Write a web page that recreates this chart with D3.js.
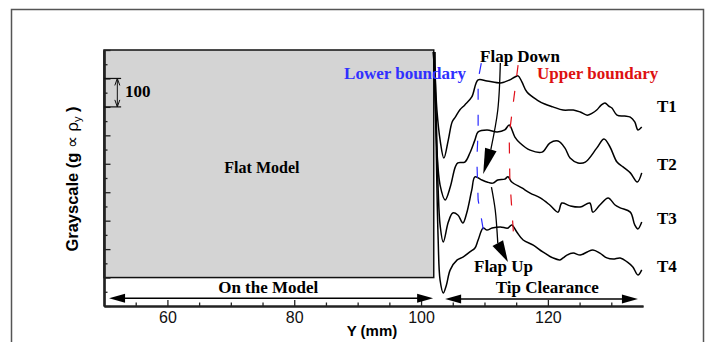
<!DOCTYPE html>
<html>
<head>
<meta charset="utf-8">
<script src="https://cdn.jsdelivr.net/npm/d3@7/dist/d3.min.js"></script>
<style>
  body { margin: 0; background: #fff; }
  .serif { font-family: "Liberation Serif", "Times New Roman", serif; font-weight: bold; }
  .sans { font-family: "Liberation Sans", Arial, sans-serif; }
</style>
</head>
<body>
<div id="chart"></div>
<script>
// grayscale profiles across the tip clearance, [Y (mm), grayscale]
var t1 = [[101.9,893],[102.2,812],[102.5,689],[103.0,584],[103.6,520],[104.3,584],[104.9,647],[105.4,664],
  [106.1,689],[106.9,707],[108.0,735],[109.0,795],[110.4,791],[112.5,784],[113.2,788],[114.0,795],[114.8,805],
  [115.3,809],[115.9,788],[116.7,752],[118.3,724],[119.5,710],[120.8,700],[122.4,689],[124.0,689],[125.1,682],
  [126.2,671],[127.0,678],[127.7,689],[128.4,706],[129.0,714],[129.6,703],[130.1,696],[130.9,671],[132.1,668],
  [133.0,664],[133.7,647],[134.2,619],[134.8,629]];
var t2 = [[102.0,893],[102.2,724],[102.5,548],[103.0,425],[103.8,373],[104.6,418],[105.4,489],[105.8,503],
  [106.9,506],[107.7,538],[108.5,584],[109.0,612],[110.4,619],[112.0,612],[113.2,619],[113.9,636],[114.8,594],
  [115.6,573],[117.2,548],[119.1,541],[120.3,573],[121.6,580],[122.7,555],[123.5,520],[124.75,503],[125.9,506],
  [127.7,555],[128.85,587],[129.8,559],[130.9,506],[131.85,489],[133.0,468],[134.1,436],[134.8,468]];
var t3 = [[102.0,893],[102.4,654],[102.7,408],[103.0,285],[103.5,225],[104.3,295],[105.0,327],[105.8,320],
  [106.6,292],[107.2,327],[108.0,408],[108.5,454],[109.6,443],[110.4,436],[111.3,432],[112.1,443],[113.2,446],
  [113.7,454],[114.3,436],[115.9,415],[117.2,397],[118.8,380],[120.3,355],[121.6,330],[122.2,362],[123.5,352],
  [125.1,348],[126.6,362],[127.1,330],[128.2,355],[129.5,380],[130.6,355],[131.4,345],[133.0,330],[133.7,285],
  [134.2,271],[134.8,295]];
var t4 = [[102.2,893],[102.4,548],[102.7,232],[103.0,91],[103.5,46],[104.0,74],[104.6,127],[105.7,162],
  [106.6,172],[107.7,190],[108.5,204],[109.0,232],[109.8,274],[110.4,267],[111.2,274],[112.5,278],[113.7,274],
  [114.3,285],[115.1,260],[116.1,232],[117.7,214],[119.2,190],[120.8,169],[121.9,162],[122.4,169],[123.0,179],
  [124.0,186],[125.1,179],[126.2,190],[127.1,197],[128.2,186],[129.3,169],[130.3,165],[131.4,169],[132.5,155],
  [133.4,137],[134.2,109],[134.8,127]];
var profiles = [t1, t2, t3, t4];
var profileNames = ["T1", "T2", "T3", "T4"];
var profileLabelY = [682, 478, 288, 120];

var lowerBoundary = [[109.5,854],[109.0,795],[109.0,619],[108.8,513],[109.0,373],[110.1,232]];
var upperBoundary = [[115.3,847],[113.9,601],[114.0,443],[114.7,214]];

var flapDown = [[112.5,854],[112.1,689],[111.0,550],[109.8,464]];
var flapUp = [[111.1,418],[111.7,337],[112.1,221],[113.7,155]];

var modelExtent = [50, 102];      // Y range of flat model
var modelGray = [100, 900];
var modelArrow = [50.8, 101.9];
var tipArrow = [103.8, 134.2];
var xMajor = [60, 80, 100, 120];

var width = 715, height = 342;
var margin = { top: 50, right: 72, bottom: 36, left: 104 };

var x = d3.scaleLinear().domain([50, 135]).range([margin.left, width - margin.right]);
var y = d3.scaleLinear().domain([0, 900]).range([height - margin.bottom, margin.top]);

var svg = d3.select("#chart").append("svg")
  .attr("width", width).attr("height", height);

// outer frame
svg.append("path")
  .attr("d", "M11.5," + height + "V9.5H703.5V" + height)
  .attr("fill", "none").attr("stroke", "#555").attr("stroke-width", 1.5);

// flat model region
svg.append("rect")
  .attr("x", x(modelExtent[0])).attr("y", y(modelGray[1]))
  .attr("width", x(modelExtent[1]) - x(modelExtent[0]))
  .attr("height", y(modelGray[0]) - y(modelGray[1]))
  .attr("fill", "#d4d4d4").attr("stroke", "#111").attr("stroke-width", 1.5);

// axes
var xMinor = d3.range(55, 135, 5).filter(function (v) { return xMajor.indexOf(v) < 0; });
var yMajor = d3.range(0, 901, 100);
var yMinor = d3.range(50, 900, 100);

var gx = svg.append("g").attr("transform", "translate(0," + y(0) + ")");
gx.call(d3.axisBottom(x).tickValues(xMinor).tickSize(-3.5).tickSizeOuter(0).tickFormat(""));
gx.append("g").call(d3.axisBottom(x).tickValues(xMajor).tickSize(-6).tickSizeOuter(0).tickPadding(6)
  .tickFormat(d3.format("d")));
gx.selectAll("text").attr("class", "sans").attr("font-size", 16).attr("fill", "#111");

var gy = svg.append("g").attr("transform", "translate(" + x(50) + ",0)");
gy.call(d3.axisLeft(y).tickValues(yMinor).tickSize(-3.5).tickSizeOuter(0).tickFormat(""));
gy.append("g").call(d3.axisLeft(y).tickValues(yMajor).tickSize(-6.5).tickSizeOuter(0).tickFormat(""));

svg.selectAll(".domain").attr("stroke", "#222").attr("stroke-width", 2.2);
svg.selectAll(".tick line").attr("stroke", "#222").attr("stroke-width", 1.3);

// axis titles
svg.append("text").attr("class", "sans")
  .attr("x", 372).attr("y", 336).attr("text-anchor", "middle")
  .attr("font-size", 15).attr("font-weight", "bold").text("Y (mm)");

var yl = svg.append("text").attr("class", "sans")
  .attr("transform", "translate(78,179) rotate(-90)")
  .attr("text-anchor", "middle").attr("font-size", 16.5).attr("font-weight", "bold");
yl.append("tspan").text("Grayscale (g ");
yl.append("tspan").attr("font-weight", "normal").text("\u221d \u03c1");
yl.append("tspan").attr("font-weight", "normal").attr("font-size", 11).attr("dy", 3).text("y");
yl.append("tspan").attr("dy", -3).text(" )");

// 100-unit scale bracket
[700, 800].forEach(function (v) {
  svg.append("line")
    .attr("x1", x(50)).attr("x2", x(52.7)).attr("y1", y(v)).attr("y2", y(v))
    .attr("stroke", "#111").attr("stroke-width", 1.2);
});
var bx = x(52.1);
svg.append("line").attr("x1", bx).attr("x2", bx).attr("y1", y(800)).attr("y2", y(700))
  .attr("stroke", "#111").attr("stroke-width", 1);
svg.append("path")
  .attr("d", "M" + (bx - 2.5) + "," + (y(800) + 7) + "L" + bx + "," + y(800) + "L" + (bx + 2.5) + "," + (y(800) + 7) +
    "M" + (bx - 2.5) + "," + (y(700) - 7) + "L" + bx + "," + y(700) + "L" + (bx + 2.5) + "," + (y(700) - 7))
  .attr("fill", "none").attr("stroke", "#111").attr("stroke-width", 1);
svg.append("text").attr("class", "serif").attr("font-size", 17)
  .attr("x", x(53.3)).attr("y", y(735)).text("100");

// profiles
var line = d3.line()
  .x(function (d) { return x(d[0]); })
  .y(function (d) { return y(d[1]); })
  .curve(d3.curveCatmullRom.alpha(0.5));

svg.selectAll(".profile").data(profiles).enter()
  .append("path").attr("class", "profile")
  .attr("d", line).attr("fill", "none").attr("stroke", "#000").attr("stroke-width", 1.5);

svg.selectAll(".tlab").data(profileNames).enter()
  .append("text").attr("class", "serif tlab").attr("font-size", 17)
  .attr("x", x(137.2)).attr("y", function (d, i) { return y(profileLabelY[i]); })
  .text(function (d) { return d; });

// boundaries
var lin = d3.line().x(function (d) { return x(d[0]); }).y(function (d) { return y(d[1]); });
svg.append("path").attr("d", lin(lowerBoundary)).attr("fill", "none")
  .attr("stroke", "#2a2aff").attr("stroke-width", 1.2).attr("stroke-dasharray", "11,15");
svg.append("path").attr("d", lin(upperBoundary)).attr("fill", "none")
  .attr("stroke", "#e0101a").attr("stroke-width", 1.2).attr("stroke-dasharray", "11,15");

svg.append("text").attr("class", "serif").attr("font-size", 17).attr("fill", "#3030ff")
  .attr("text-anchor", "end").attr("x", x(107.1)).attr("y", y(798)).text("Lower boundary");
svg.append("text").attr("class", "serif").attr("font-size", 17).attr("fill", "#dd1111")
  .attr("x", x(118.3)).attr("y", y(798)).text("Upper boundary");

// flap arrows
function flapArrow(pts, hw) {
  var p = pts.map(function (d) { return [x(d[0]), y(d[1])]; });
  var tip = p[p.length - 1], base = p[p.length - 2];
  svg.append("path").attr("d", d3.line().curve(d3.curveCatmullRom)(p.slice(0, -1)))
    .attr("fill", "none").attr("stroke", "#000").attr("stroke-width", 1.3);
  var dx = tip[0] - base[0], dy = tip[1] - base[1], len = Math.sqrt(dx * dx + dy * dy);
  var nx = -dy / len * hw, ny = dx / len * hw;
  svg.append("path")
    .attr("d", "M" + (base[0] + nx) + "," + (base[1] + ny) + "L" + tip[0] + "," + tip[1] +
      "L" + (base[0] - nx) + "," + (base[1] - ny) + "Z")
    .attr("fill", "#000");
}
flapArrow(flapDown, 6);
flapArrow(flapUp, 6);

svg.append("text").attr("class", "serif").attr("font-size", 17)
  .attr("x", x(109.3)).attr("y", y(858)).text("Flap Down");
svg.append("text").attr("class", "serif").attr("font-size", 17)
  .attr("x", x(108.35)).attr("y", y(120)).text("Flap Up");

// region arrows
function doubleArrow(ext, v) {
  var x0 = x(ext[0]), x1 = x(ext[1]), yy = y(v);
  svg.append("line").attr("x1", x0 + 10).attr("x2", x1 - 10).attr("y1", yy).attr("y2", yy)
    .attr("stroke", "#000").attr("stroke-width", 1.5);
  svg.append("path").attr("d", "M" + x0 + "," + yy + "L" + (x0 + 16) + "," + (yy - 4.5) + "L" + (x0 + 16) + "," + (yy + 4.5) + "Z")
    .attr("fill", "#000");
  svg.append("path").attr("d", "M" + x1 + "," + yy + "L" + (x1 - 16) + "," + (yy - 4.5) + "L" + (x1 - 16) + "," + (yy + 4.5) + "Z")
    .attr("fill", "#000");
}
doubleArrow(modelArrow, 27);
doubleArrow(tipArrow, 25);

svg.append("text").attr("class", "serif").attr("font-size", 17).attr("text-anchor", "middle")
  .attr("x", x(75.9)).attr("y", y(46)).text("On the Model");
svg.append("text").attr("class", "serif").attr("font-size", 17).attr("text-anchor", "middle")
  .attr("x", x(119.9)).attr("y", y(46)).text("Tip Clearance");
svg.append("text").attr("class", "serif").attr("font-size", 16).attr("text-anchor", "middle")
  .attr("x", x(74.9)).attr("y", y(468)).text("Flat Model");
</script>
</body>
</html>
